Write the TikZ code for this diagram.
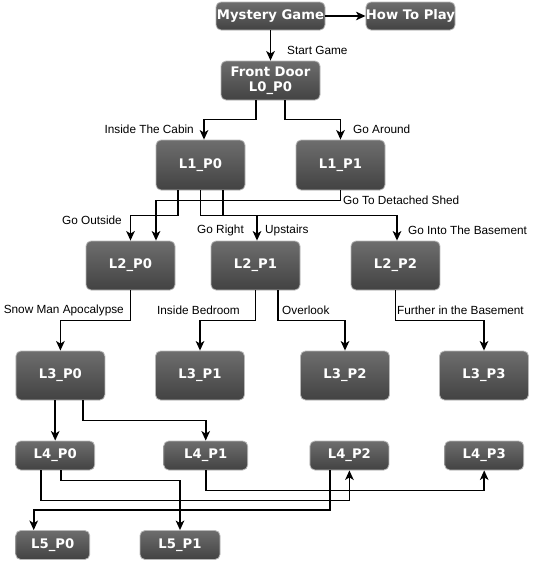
\documentclass[tikz,border=0pt]{standalone}
\usepackage{fontspec}
\setmainfont{Liberation Sans}
\newfontfamily\roomfont{DejaVu Sans}
\usetikzlibrary{arrows.meta}

\begin{document}
\begin{tikzpicture}[x=1pt,y=-1pt,
	room/.style={draw=black!28,line width=0.8pt,rounded corners=5pt,top color=black!57,bottom color=black!74,text=white,font=\roomfont\bfseries\fontsize{13.2}{15}\selectfont,inner sep=0pt,align=center},
	lbl/.style={font=\fontsize{11.8}{13}\selectfont,inner sep=0pt},
	link/.style={line width=1.8pt,-{Stealth[length=9.5pt,width=8.5pt,inset=2.5pt]}}]
	\useasboundingbox (0,0) rectangle (547,562);

	\node[room,minimum width=109pt,minimum height=28pt] (mystery) at (270.5,16) {Mystery Game};
	\node[room,minimum width=89pt,minimum height=28pt] (howto) at (410.5,16) {How To Play};
	\node[room,minimum width=99pt,minimum height=39pt] (front) at (270.5,80.5) {Front Door\\L0\_P0};

	\node[room,minimum width=89pt,minimum height=50pt] (l1p0) at (200.5,165) {L1\_P0};
	\node[room,minimum width=89pt,minimum height=50pt] (l1p1) at (340.5,165) {L1\_P1};

	\node[room,minimum width=89pt,minimum height=49pt] (l2p0) at (130.5,265.5) {L2\_P0};
	\node[room,minimum width=89pt,minimum height=49pt] (l2p1) at (255.5,265.5) {L2\_P1};
	\node[room,minimum width=89pt,minimum height=49pt] (l2p2) at (395.5,265.5) {L2\_P2};

	\node[room,minimum width=89pt,minimum height=49pt] (l3p0) at (60.4,375.5) {L3\_P0};
	\node[room,minimum width=89pt,minimum height=49pt] (l3p1) at (200,375.5) {L3\_P1};
	\node[room,minimum width=89pt,minimum height=49pt] (l3p2) at (345,375.5) {L3\_P2};
	\node[room,minimum width=89pt,minimum height=49pt] (l3p3) at (484,375.5) {L3\_P3};

	\node[room,minimum width=79pt,minimum height=29pt] (l4p0) at (55.2,455.5) {L4\_P0};
	\node[room,minimum width=84pt,minimum height=29pt] (l4p1) at (205.7,455.5) {L4\_P1};
	\node[room,minimum width=79pt,minimum height=29pt] (l4p2) at (349.4,455.5) {L4\_P2};
	\node[room,minimum width=79pt,minimum height=29pt] (l4p3) at (484.2,455.5) {L4\_P3};

	\node[room,minimum width=74pt,minimum height=29pt] (l5p0) at (52.7,545) {L5\_P0};
	\node[room,minimum width=80pt,minimum height=29pt] (l5p1) at (180,545) {L5\_P1};

	\draw[link] (mystery.east) -- (howto.west);
	\draw[link] (mystery.south) -- (front.north);
	\draw[link] ([xshift=-14.5pt]front.south) -- ++(0,19) -| ([xshift=3.5pt]l1p0.north);
	\draw[link] ([xshift=14.5pt]front.south) -- ++(0,19) -| (l1p1.north);

	\draw[link] ([xshift=-22.25pt]l1p0.south) -- ++(0,25) -| (l2p0.north);
	\draw[link] (l1p0.south) -- ++(0,25) -| ([xshift=1.5pt]l2p1.north);
	\draw[link] ([xshift=22.25pt]l1p0.south) -- ++(0,25) -| ([xshift=1.5pt]l2p2.north);
	\draw[link] (l1p1.south) -- ++(0,10) -| ([xshift=25.5pt]l2p0.north);

	\draw[link] (l2p0.south) -- ++(0,30) -| (l3p0.north);
	\draw[link] (l2p1.south) -- ++(0,30) -| (l3p1.north);
	\draw[link] ([xshift=22.25pt]l2p1.south) -- ++(0,30) -| (l3p2.north);
	\draw[link] (l2p2.south) -- ++(0,30) -| (l3p3.north);

	\draw[link] (l3p0.south -| l4p0.north) -- (l4p0.north);
	\draw[link] ([xshift=22.25pt]l3p0.south) -- ++(0,20) -| (l4p1.north);

	\draw[link] ([xshift=-14pt]l4p0.south) -- ++(0,30) -| (l4p2.south);
	\draw[link] ([xshift=6pt]l4p0.south) -- ++(0,10) -| (l5p1.north);
	\draw[link] (l4p1.south) -- ++(0,20) -| (l4p3.south);
	\draw[link] ([xshift=-19.4pt]l4p2.south) -- ++(0,39.3) -| ([xshift=-19pt]l5p0.north);

	\node[lbl,anchor=west] (startgame) at (287,50) {Start Game};
	\node[lbl,anchor=east] (cabin) at (194,129) {Inside The Cabin};
	\node[lbl,anchor=west] (around) at (353,129) {Go Around};
	\node[lbl,anchor=west] (shed) at (343,200) {Go To Detached Shed};
	\node[lbl,anchor=east] (outside) at (122,220) {Go Outside};
	\node[lbl,anchor=east] (right) at (244,230) {Go Right};
	\node[lbl,anchor=west] (upstairs) at (265,230) {Upstairs};
	\node[lbl,anchor=west] (basement) at (408,230) {Go Into The Basement};
	\node[lbl,anchor=east] (snowman) at (124,310) {Snow Man Apocalypse};
	\node[lbl,anchor=east] (bedroom) at (240,310) {Inside Bedroom};
	\node[lbl,anchor=west] (overlook) at (282,310) {Overlook};
	\node[lbl,anchor=west] (further) at (397,310) {Further in the Basement};
\end{tikzpicture}
\end{document}
